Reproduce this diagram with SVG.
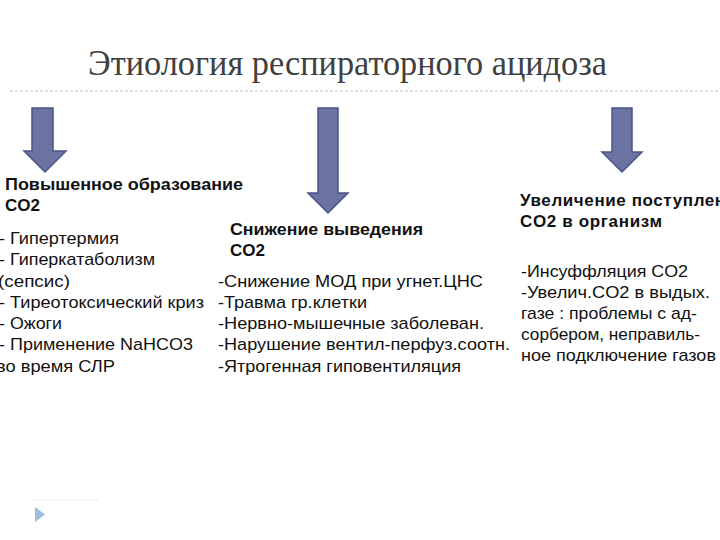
<svg xmlns="http://www.w3.org/2000/svg" width="720" height="540" viewBox="0 0 720 540">
<style>
.title{font-family:"Liberation Serif","DejaVu Serif",serif;font-size:36px;fill:#404040}
.h{font-family:"Liberation Sans",Arial,sans-serif;font-size:17px;font-weight:bold;fill:#111}
.t{font-family:"Liberation Sans",Arial,sans-serif;font-size:17px;fill:#111}
.arrow{fill:#6A73A2;stroke:#4B5486;stroke-width:1.5}
</style>
<rect width="720" height="540" fill="#fff"/>
<text class="title" x="88" y="75" textLength="519" lengthAdjust="spacingAndGlyphs">Этиология респираторного ацидоза</text>
<line x1="10" y1="91" x2="720" y2="91" stroke="#c4c4c4" stroke-width="1" stroke-dasharray="3,2"/>
<g id="connectors">
<path class="arrow" d="M32,108 H53 V151 H66 L45,172 L24,151 H32 Z"/>
<path class="arrow" d="M318,108 H338 V193 H348 L328,213 L308,193 H318 Z"/>
<path class="arrow" d="M612,108 H632 V152 H642 L622,172 L602,152 H612 Z"/>
</g>
<g id="node-left">
<text class="h" x="5" y="190" textLength="238" lengthAdjust="spacingAndGlyphs">Повышенное образование</text>
<text class="h" x="5" y="211" textLength="35" lengthAdjust="spacingAndGlyphs">CO2</text>
<text class="t" x="-1" y="244" textLength="120" lengthAdjust="spacingAndGlyphs">- Гипертермия</text>
<text class="t" x="-1" y="265" textLength="156" lengthAdjust="spacingAndGlyphs">- Гиперкатаболизм</text>
<text class="t" x="-2" y="287" textLength="72" lengthAdjust="spacingAndGlyphs">(сепсис)</text>
<text class="t" x="-1" y="308" textLength="205" lengthAdjust="spacingAndGlyphs">- Тиреотоксический криз</text>
<text class="t" x="-1" y="329" textLength="63" lengthAdjust="spacingAndGlyphs">- Ожоги</text>
<text class="t" x="-1" y="350" textLength="194" lengthAdjust="spacingAndGlyphs">- Применение NaHCO3</text>
<text class="t" x="-4" y="372" textLength="119" lengthAdjust="spacingAndGlyphs">во время СЛР</text>
</g>
<g id="node-middle">
<text class="h" x="230" y="235" textLength="193" lengthAdjust="spacingAndGlyphs">Снижение выведения</text>
<text class="h" x="230" y="256" textLength="35" lengthAdjust="spacingAndGlyphs">CO2</text>
<text class="t" x="218" y="287" textLength="265" lengthAdjust="spacingAndGlyphs">-Снижение МОД при угнет.ЦНС</text>
<text class="t" x="218" y="308" textLength="149" lengthAdjust="spacingAndGlyphs">-Травма гр.клетки</text>
<text class="t" x="218" y="329" textLength="266" lengthAdjust="spacingAndGlyphs">-Нервно-мышечные заболеван.</text>
<text class="t" x="218" y="350" textLength="292" lengthAdjust="spacingAndGlyphs">-Нарушение вентил-перфуз.соотн.</text>
<text class="t" x="218" y="372" textLength="243" lengthAdjust="spacingAndGlyphs">-Ятрогенная гиповентиляция</text>
</g>
<g id="node-right">
<text class="h" x="520" y="206" letter-spacing="0.6">Увеличение поступлен</text>
<text class="h" x="520" y="227" textLength="142" lengthAdjust="spacing">CO2  в организм</text>
<text class="t" x="521" y="277" textLength="167" lengthAdjust="spacingAndGlyphs">-Инсуффляция CO2</text>
<text class="t" x="521" y="298" textLength="189" lengthAdjust="spacingAndGlyphs">-Увелич.CO2 в выдых.</text>
<text class="t" x="521" y="319" textLength="176" lengthAdjust="spacingAndGlyphs">газе : проблемы с ад-</text>
<text class="t" x="521" y="340" textLength="179" lengthAdjust="spacingAndGlyphs">сорбером, неправиль-</text>
<text class="t" x="521" y="361" textLength="195" lengthAdjust="spacingAndGlyphs">ное подключение газов</text>
</g>
<g id="bullet">
<line x1="32" y1="500" x2="100" y2="500" stroke="#e4e8f0" stroke-width="1" stroke-dasharray="2,2"/>
<path d="M35,507 L45,514.5 L35,522 Z" fill="#9dbde0"/>
</g>
</svg>
